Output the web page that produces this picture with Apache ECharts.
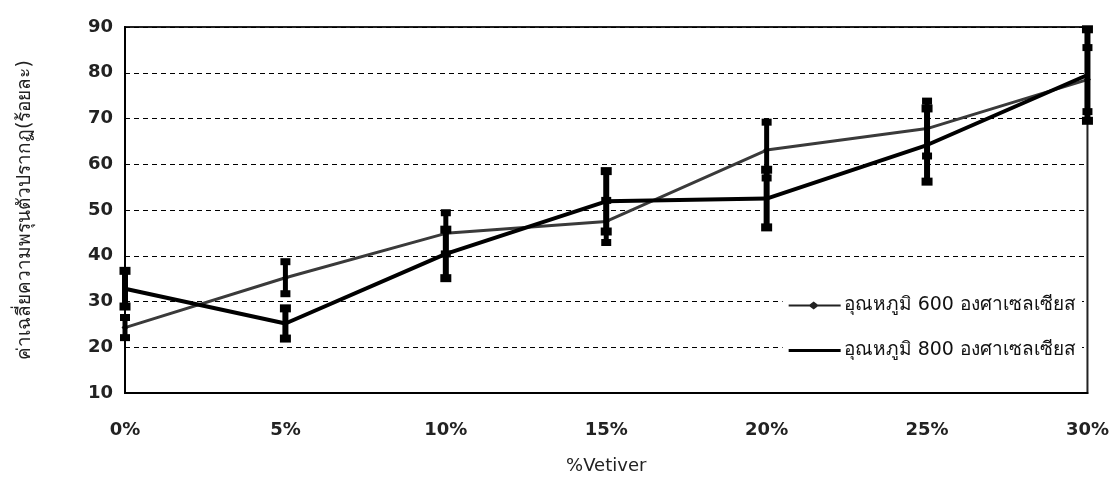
<!DOCTYPE html>
<html>
<head>
<meta charset="utf-8">
<script src="https://cdn.jsdelivr.net/npm/echarts@6/dist/echarts.min.js"></script>
<style>
html,body{margin:0;padding:0;background:#fff;}
#c{width:1112px;height:480px;}
</style>
</head>
<body>
<div id="c"></div>
<script>
const categories = ['0%', '5%', '10%', '15%', '20%', '25%', '30%'];
const mean600 = [24.3, 35.2, 44.9, 47.5, 63.1, 67.8, 78.5];
const err600  = [2.2, 3.5, 4.5, 4.6, 6.1, 6.0, 7.0];
const mean800 = [32.8, 25.2, 40.4, 51.9, 52.5, 64.2, 79.5];
const err800  = [3.9, 3.3, 5.3, 6.6, 6.3, 8.0, 10.0];
const yTicks = [10, 20, 30, 40, 50, 60, 70, 80, 90];
const name600 = 'อุณหภูมิ 600 องศาเซลเซียส';
const name800 = 'อุณหภูมิ 800 องศาเซลเซียส';
const xName = '%Vetiver';
const yName = 'ค่าเฉลี่ยความพรุนตัวปรากฏ(ร้อยละ)';

const errData = (mean, err) => mean.map((m, i) => [i, m - err[i], m + err[i]]);

function makeErrRender(lineW, capW, capH) {
  return function (params, api) {
    const x = api.value(0);
    const lo = api.coord([x, api.value(1)]);
    const hi = api.coord([x, api.value(2)]);
    return {
      type: 'group',
      children: [
        { type: 'line', shape: { x1: hi[0], y1: hi[1], x2: lo[0], y2: lo[1] },
          style: { stroke: '#000', lineWidth: lineW } },
        { type: 'rect', shape: { x: hi[0] - capW / 2, y: hi[1] - capH / 2, width: capW, height: capH },
          style: { fill: '#000' } },
        { type: 'rect', shape: { x: lo[0] - capW / 2, y: lo[1] - capH / 2, width: capW, height: capH },
          style: { fill: '#000' } }
      ]
    };
  };
}

const font = '"DejaVu Sans", "Noto Sans", Tahoma, sans-serif';
const chart = echarts.init(document.getElementById('c'));
chart.setOption({
  animation: false,
  backgroundColor: '#fff',
  grid: { left: 125, right: 24, top: 27, bottom: 84, show: true, borderColor: '#222', borderWidth: 2 },
  legend: {
    orient: 'vertical', right: 30, top: 288, itemGap: 26,
    itemWidth: 52, itemHeight: 12,
    backgroundColor: '#fff', padding: [8, 6, 10, 6],
    textStyle: { fontFamily: font, fontSize: 19, color: '#111', padding: [0, 0, 0, -2] },
    data: [
      { name: name600, icon: 'path://M0,5 L21,5 L25,2 L29,5 L52,5 L52,7 L29,7 L25,10 L21,7 L0,7 Z' },
      { name: name800, icon: 'path://M0,4.5 L52,4.5 L52,7.5 L0,7.5 Z' }
    ]
  },
  xAxis: {
    type: 'category', data: categories, boundaryGap: false,
    name: xName, nameLocation: 'middle', nameGap: 64,
    nameTextStyle: { fontFamily: font, fontSize: 18, color: '#222' },
    axisLine: { lineStyle: { color: '#000', width: 2 } },
    axisTick: { show: false },
    axisLabel: { fontFamily: font, fontSize: 18, fontWeight: 'bold', color: '#222', margin: 28 }
  },
  yAxis: {
    type: 'value', min: yTicks[0], max: yTicks[yTicks.length - 1], interval: 10,
    name: yName, nameLocation: 'middle', nameGap: 90, nameRotate: 90,
    nameTextStyle: { fontFamily: font, fontSize: 19, color: '#222' },
    axisLine: { show: true, lineStyle: { color: '#000', width: 2 } },
    axisTick: { show: false },
    axisLabel: { fontFamily: font, fontSize: 18, fontWeight: 'bold', color: '#222', margin: 12 },
    splitLine: { lineStyle: { color: '#000', type: [5, 4], width: 1 } }
  },
  series: [
    { name: name600, type: 'line', data: mean600, color: '#3a3a3a',
      lineStyle: { width: 3, color: '#3a3a3a' }, symbol: 'diamond', symbolSize: 7,
      itemStyle: { color: '#222' }, z: 3 },
    { name: name800, type: 'line', data: mean800, color: '#000',
      lineStyle: { width: 4, color: '#000' }, symbol: 'none', z: 4 },
    { type: 'custom', name: 'err600', data: errData(mean600, err600),
      renderItem: makeErrRender(5, 10, 7), z: 5, silent: true },
    { type: 'custom', name: 'err800', data: errData(mean800, err800),
      renderItem: makeErrRender(6, 11, 8), z: 6, silent: true }
  ]
});
</script>
</body>
</html>
